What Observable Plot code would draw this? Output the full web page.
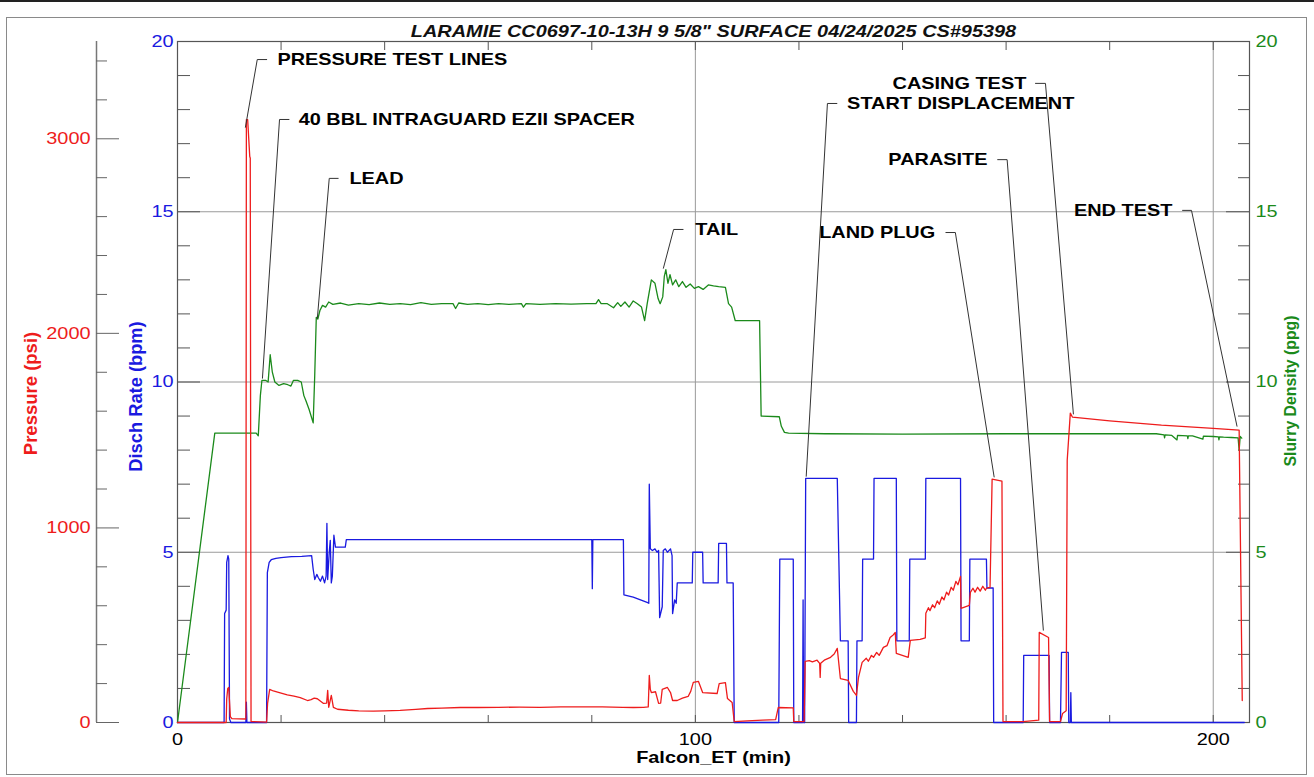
<!DOCTYPE html>
<html>
<head>
<meta charset="utf-8">
<script src="https://cdn.jsdelivr.net/npm/d3@7"></script>
<script src="https://cdn.jsdelivr.net/npm/@observablehq/plot@0.6"></script>
<style>
  body { margin: 0; background: #fff; }
  #wrap { position: relative; width: 1314px; height: 777px; overflow: hidden; }
  #wrap svg { display: block; }
  .topline { position: absolute; left: 0; top: 0; width: 1314px; height: 2px; background: #222; pointer-events: none; }
  .box { position: absolute; left: 6px; top: 17px; width: 1301px; height: 758px; border: 1.5px solid #8a8a8a; box-sizing: border-box; pointer-events: none; }
</style>
</head>
<body>
<div id="wrap"></div>
<script>
// ---------- DATA ----------
const chartTitle = 'LARAMIE CC0697-10-13H 9 5/8" SURFACE 04/24/2025 CS#95398';

// [time (min), slurry density (ppg)]
const densitySeries = [
  [0,0],[7.2,8.5],[15.2,8.5],[15.6,8.42],[16.0,9.6],[16.3,10.05],[17.0,10.05],[17.5,10.0],[17.9,10.8],[18.3,10.3],
  [18.8,10.0],[19.6,9.9],[20.5,9.95],[21.3,9.92],[21.9,9.88],[22.4,10.05],[23.2,10.05],[23.9,10.0],[24.4,9.6],
  [24.8,9.45],[25.4,9.2],[26.2,8.8],[26.5,10.2],[26.8,11.9],[27.1,11.85],[27.5,12.1],[28.0,12.25],[28.6,12.2],
  [29.2,12.35],[30.0,12.28],[31.5,12.32],[33,12.26],[35,12.3],[37,12.27],[39,12.32],[41,12.28],[43,12.3],[45,12.27],
  [47,12.33],[49,12.28],[51,12.3],[53.2,12.3],[53.7,12.16],[54.3,12.32],[56,12.28],[58,12.3],[60,12.27],[62,12.3],
  [64,12.28],[66.4,12.3],[66.8,12.2],[67.3,12.3],[70,12.28],[73,12.3],[76,12.29],[79,12.3],[80.8,12.3],[81.3,12.42],
  [81.8,12.3],[83,12.3],[84.2,12.18],[85,12.33],[85.6,12.22],[86.4,12.35],[87.2,12.2],[88,12.38],[88.8,12.3],
  [89.6,12.2],[90.2,11.8],[90.7,12.3],[91.5,13.0],[92.2,12.9],[92.8,12.45],[93.2,12.3],[93.7,12.5],[94.0,13.1],
  [94.3,13.3],[94.7,12.9],[95.1,13.15],[95.6,12.85],[96.2,13.0],[96.8,12.8],[97.5,12.95],[98.2,12.78],[99,12.88],
  [99.8,12.75],[100.6,12.8],[101.5,12.72],[102.5,12.85],[103.5,12.82],[104.5,12.8],[105.8,12.78],[106.4,12.3],
  [107.0,12.2],[107.7,11.8],[112.4,11.8],[112.7,9.0],[116.2,8.98],[116.6,8.7],[117.2,8.52],[118,8.5],[125,8.48],
  [140,8.47],[160,8.48],[175,8.48],[189,8.48],[190.5,8.45],[190.6,8.36],[190.7,8.45],[192,8.43],[193,8.3],[193.1,8.43],
  [195,8.42],[195.1,8.34],[195.2,8.42],[196,8.42],[198,8.32],[198.1,8.41],[200,8.4],[201,8.39],[201.1,8.3],[201.2,8.39],
  [202,8.38],[203.5,8.37],[204.8,8.36],[205.0,8.0],[205.2,8.4],[205.5,8.35]
];

// [time (min), discharge rate (bpm)]
const rateSeries = [
  [0,0],[9.0,0],[9.1,3.2],[9.4,3.3],[9.5,4.7],[9.75,4.9],[9.9,4.8],[10.05,0.1],[10.3,0],[13.2,0],[13.3,0.6],[13.4,0],
  [17.2,0],[17.35,4.4],[17.7,4.7],[18.1,4.78],[19,4.82],[20,4.84],[22,4.87],[24,4.88],[25.9,4.9],[26.2,4.5],[26.5,4.2],
  [26.9,4.35],[27.2,4.25],[27.6,4.15],[28.0,4.3],[28.4,4.1],[28.7,4.3],[28.85,5.85],[29.0,4.2],[29.3,5.0],[29.5,5.35],
  [29.7,4.1],[29.9,4.3],[30.2,5.5],[30.5,5.15],[32.4,5.15],[32.6,5.37],[50,5.37],[80.0,5.37],[80.1,3.93],[80.2,5.37],
  [86.1,5.37],[86.2,3.75],[88,3.68],[90.8,3.52],[91.0,3.5],[91.1,7.0],[91.3,5.1],[91.7,5.05],[92.2,5.1],[92.6,5.0],
  [92.9,5.05],[93.1,3.08],[93.6,3.4],[93.8,5.05],[94.2,5.1],[94.6,5.0],[95.2,5.1],[95.5,4.9],[95.6,3.2],[96.0,3.6],
  [96.3,3.5],[96.5,4.1],[99.4,4.1],[99.5,5.0],[101.4,5.0],[101.5,4.1],[104.4,4.1],[104.5,5.26],[106.0,5.26],[106.1,4.1],
  [107.3,4.1],[107.5,0],[116.1,0],[116.3,4.8],[118.9,4.8],[119.0,0],[120.7,0],[120.8,3.6],[120.9,0],[121.1,0],
  [121.3,7.17],[127.4,7.17],[127.7,4.82],[128.0,2.4],[129.5,2.4],[129.6,0],[131.1,0],[131.2,2.4],[132.2,2.4],
  [132.3,4.8],[134.4,4.8],[134.5,7.17],[138.8,7.17],[138.9,2.4],[141.3,2.4],[141.4,4.8],[144.4,4.8],[144.5,7.17],
  [151.2,7.17],[151.3,2.4],[152.9,2.4],[153.0,4.8],[156.2,4.8],[156.3,3.95],[157.5,3.95],[157.6,0],[163.3,0],
  [163.4,1.97],[168.3,1.97],[168.4,0],[170.5,0],[170.7,2.06],[172.0,2.06],[172.1,0],[172.4,0],[172.5,0.88],[172.6,0],
  [206,0]
];

// [time (min), pressure (psi)]
const pressureSeries = [
  [0,0],[9.4,0],[9.5,120],[9.7,175],[9.9,180],[10.2,30],[10.5,20],[13.2,18],[13.3,3098],[13.55,3098],[13.95,2910],
  [14.05,2900],[14.2,5],[17.2,2],[17.4,100],[17.8,170],[18.5,162],[19.5,155],[21.2,142],[22.5,135],[23.7,128],
  [25.1,113],[25.8,118],[26.4,125],[27.0,122],[28.2,98],[28.8,100],[29.0,165],[29.2,78],[29.7,139],[30.1,78],
  [30.9,68],[33,63],[35,60],[37.8,58],[40,60],[43,62],[46,67],[48.3,72],[51,74],[54.6,77],[58,77],[62,78],[66,79],
  [70,78],[74,80],[78,80],[82,80],[86,78],[88,77],[90.0,78],[90.9,80],[91.1,242],[91.3,170],[91.5,154],[92.3,158],
  [92.9,98],[93.3,100],[93.6,170],[94.6,180],[95.2,154],[95.6,113],[96.5,113],[97.5,125],[98.6,134],[99.1,160],
  [99.6,206],[100.6,211],[101.4,154],[104.2,149],[104.6,200],[105.8,205],[106.2,123],[107.1,103],[107.5,5],[110,8],
  [113,12],[115.5,15],[116.0,77],[118.9,75],[119.0,5],[121.0,5],[121.2,314],[122,318],[122.6,312],[123.5,320],
  [124.0,304],[124.1,232],[124.2,304],[125,322],[126.1,335],[126.8,352],[127.4,381],[128.0,226],[129.5,216],
  [130.5,160],[131.1,139],[131.5,232],[132.2,309],[133.0,330],[133.4,315],[134.0,345],[134.4,335],[135.0,360],
  [135.5,345],[136.3,386],[137.0,395],[137.6,437],[138.2,450],[138.6,463],[138.8,355],[141.1,335],[141.5,422],
  [143.4,427],[144.4,435],[144.5,561],[145.0,590],[145.3,575],[145.8,605],[146.2,590],[146.7,625],[147.1,608],
  [147.6,645],[148.0,630],[148.5,670],[148.9,655],[149.4,695],[149.8,680],[150.3,725],[150.7,708],[151.2,751],
  [151.3,587],[152.9,602],[153.1,669],[153.6,690],[154.0,670],[154.5,695],[155.0,675],[155.5,700],[156.0,680],
  [156.2,690],[156.9,695],[157.3,1251],[159.2,1240],[159.4,5],[163.3,5],[166.3,12],[166.4,463],[168.2,437],
  [168.4,5],[170.5,5],[170.9,46],[171.6,60],[171.8,1348],[172.4,1590],[172.8,1570],[180,1550],[190,1528],
  [200,1512],[205.0,1503],[205.6,113]
];

// tick values
const xMinorTicks = [0,20,40,60,80,100,120,140,160,180,200];
const xLabelTicks = [0,100,200];
const xGridTicks = [100,200];
const leftMajorTicks = [0,5,10,15,20];
const leftMinorTicks = [1,2,3,4,6,7,8,9,11,12,13,14,16,17,18,19];
const rightMajorTicks = [0,5,10,15,20];
const rightMinorTicks = [1,2,3,4,6,7,8,9,11,12,13,14,16,17,18,19];
const yGridTicks = [5,10,15];
const pressureMajorTicks = [0,1000,2000,3000];
const pressureMinorTicks = [200,400,600,800,1200,1400,1600,1800,2200,2400,2600,2800,3200,3400];
const pressureMax = 3500;   // top of pressure axis
const rateMax = 20;         // top of rate / density axes

// annotations (time, value on the 0-20 axis)
const annoLabels = ["PRESSURE TEST LINES","40 BBL INTRAGUARD EZII SPACER","LEAD","TAIL","START DISPLACEMENT","CASING TEST","PARASITE","LAND PLUG","END TEST"];
const annoTextT  = [19.3, 23.4, 33.2, 100.0, 129.3, 163.9, 156.4, 146.3, 192.1];
const annoTextV  = [19.47, 17.71, 15.98, 14.48, 18.18, 18.77, 16.53, 14.39, 15.04];
const annoTickT  = [17.3, 21.6, 31.1, 97.7, 127.4, 165.6, 158.3, 148.3, 194.0];
const annoElbowT = [15.4, 19.7, 29.3, 95.8, 125.5, 167.6, 160.2, 150.2, 195.8];
const annoTipT   = [13.1, 16.4, 27.0, 93.8, 121.4, 173.0, 167.2, 157.7, 204.6];
const annoTipV   = [17.47, 10.1, 11.86, 13.33, 7.22, 9.05, 2.70, 7.20, 8.69];

// ---------- CHART ----------
const RED = "#ee1c1c", BLUE = "#1a1ae0", GREEN = "#1b8a1b", TICK = "#555";
const psiPerUnit = pressureMax / rateMax;
const TEXT_STRETCH = 1.17;   // the reference's lettering is drawn horizontally wide

const annos = annoLabels.map((label, i) => ({
  label, tx: annoTextT[i], ty: annoTextV[i], hx: annoTickT[i], ex: annoElbowT[i], px: annoTipT[i], py: annoTipV[i],
  left: annoTextT[i] < annoElbowT[i]
}));

const lineOpts = (color) => ({x: d => d[0], stroke: color, strokeWidth: 1.3, curve: "linear"});

const fontFamily = "'Liberation Sans', Arial, Helvetica, sans-serif";

const chart = Plot.plot({
  width: 1314,
  height: 777,
  marginLeft: 177,
  marginRight: 65,
  marginTop: 41,
  marginBottom: 55,
  x: {domain: [0, 207]},
  y: {domain: [0, rateMax]},
  style: {fontFamily, background: "transparent", color: "#000", overflow: "visible"},
  marks: [
    Plot.gridY(yGridTicks, {stroke: "#9a9a9a", strokeOpacity: 1, strokeWidth: 1}),
    Plot.gridX(xGridTicks, {stroke: "#9a9a9a", strokeOpacity: 1, strokeWidth: 1}),

    // x ticks (top & bottom, inward)
    Plot.axisX(xMinorTicks, {anchor: "top", tickSize: -8, fill: "none", stroke: TICK, label: null}),
    Plot.axisX(xMinorTicks, {anchor: "bottom", tickSize: -7, fill: "none", stroke: TICK, label: null}),
    Plot.axisX(xLabelTicks, {anchor: "bottom", tickSize: 0, tickPadding: 10, fontSize: 17, fill: "#000", label: null}),

    // left (rate) axis
    Plot.axisY(leftMinorTicks, {anchor: "left", tickSize: -13, fill: "none", stroke: TICK, label: null}),
    Plot.axisY(leftMajorTicks, {anchor: "left", tickSize: -23, fill: "none", stroke: TICK, label: null}),
    Plot.axisY(leftMajorTicks, {anchor: "left", tickSize: 0, tickPadding: 4, fontSize: 17, fill: BLUE, label: null}),

    // right (density) axis
    Plot.axisY(rightMinorTicks, {anchor: "right", tickSize: -12, fill: "none", stroke: TICK, label: null}),
    Plot.axisY(rightMajorTicks, {anchor: "right", tickSize: -24, fill: "none", stroke: TICK, label: null}),
    Plot.axisY(rightMajorTicks, {anchor: "right", tickSize: 0, tickPadding: 6, fontSize: 17, fill: GREEN, label: null}),

    // pressure axis (offset to the left of the frame)
    Plot.ruleX([0], {dx: -81, stroke: "#777", strokeWidth: 1.5}),
    Plot.axisY(pressureMinorTicks.map(p => p / psiPerUnit), {anchor: "left", dx: -81, tickSize: -11, fill: "none", stroke: "#666", label: null}),
    Plot.axisY(pressureMajorTicks.map(p => p / psiPerUnit), {anchor: "left", dx: -81, tickSize: -23, fill: "none", stroke: "#666", label: null}),
    Plot.axisY(pressureMajorTicks.map(p => p / psiPerUnit), {anchor: "left", dx: -81, tickSize: 0, tickPadding: 6, fontSize: 17, fill: RED, label: null,
      tickFormat: d => String(Math.round(d * psiPerUnit))}),

    Plot.frame({stroke: "#555", strokeWidth: 1.2}),

    // series
    Plot.line(densitySeries, {...lineOpts(GREEN), y: d => d[1]}),
    Plot.line(rateSeries, {...lineOpts(BLUE), y: d => d[1]}),
    Plot.line(pressureSeries, {...lineOpts(RED), y: d => d[1] / psiPerUnit}),

    // annotation leaders
    Plot.link(annos, {x1: "hx", y1: "ty", x2: "ex", y2: "ty", stroke: "#333", strokeWidth: 1}),
    Plot.link(annos, {x1: "ex", y1: "ty", x2: "px", y2: "py", stroke: "#333", strokeWidth: 1}),
    Plot.text(annos.filter(d => !d.left), {x: "tx", y: "ty", text: "label", textAnchor: "start", fontSize: 17, fontWeight: "bold", fill: "#000"}),
    Plot.text(annos.filter(d => d.left), {x: "tx", y: "ty", text: "label", textAnchor: "end", fontSize: 17, fontWeight: "bold", fill: "#000"}),

    // titles
    Plot.text([chartTitle], {frameAnchor: "top", dy: -17, fontSize: 17, fontWeight: "bold", fontStyle: "italic", fill: "#111"}),
    Plot.text(["Falcon_ET (min)"], {frameAnchor: "bottom", dy: 40, fontSize: 17, fontWeight: "bold", fill: "#000"}),
    Plot.text(["Pressure (psi)"], {frameAnchor: "left", textAnchor: "middle", dx: -146, dy: 11.5, rotate: -90, fontSize: 18.5, fontWeight: "bold", fill: RED}),
    Plot.text(["Disch Rate (bpm)"], {frameAnchor: "left", textAnchor: "middle", dx: -41, dy: 14.5, rotate: -90, fontSize: 18.3, fontWeight: "bold", fill: BLUE}),
    Plot.text(["Slurry Density (ppg)"], {frameAnchor: "right", textAnchor: "middle", dx: 41, dy: 9, rotate: -90, fontSize: 15.8, fontWeight: "bold", fill: GREEN})
  ]
});

// widen horizontal lettering around each text's own anchor point
d3.select(chart).selectAll("text").each(function() {
  const t = this.getAttribute("transform") || "";
  if (t.includes("rotate")) return;
  const xa = this.getAttribute("x");
  if (xa != null && !isNaN(+xa)) this.setAttribute("x", +xa / TEXT_STRETCH);
  this.setAttribute("transform", `${t} scale(${TEXT_STRETCH},1)`.trim());
});

const wrap = document.getElementById("wrap");
wrap.appendChild(chart);
const topLine = document.createElement("div"); topLine.className = "topline"; wrap.appendChild(topLine);
const boxDiv = document.createElement("div"); boxDiv.className = "box"; wrap.appendChild(boxDiv);
</script>
</body>
</html>
